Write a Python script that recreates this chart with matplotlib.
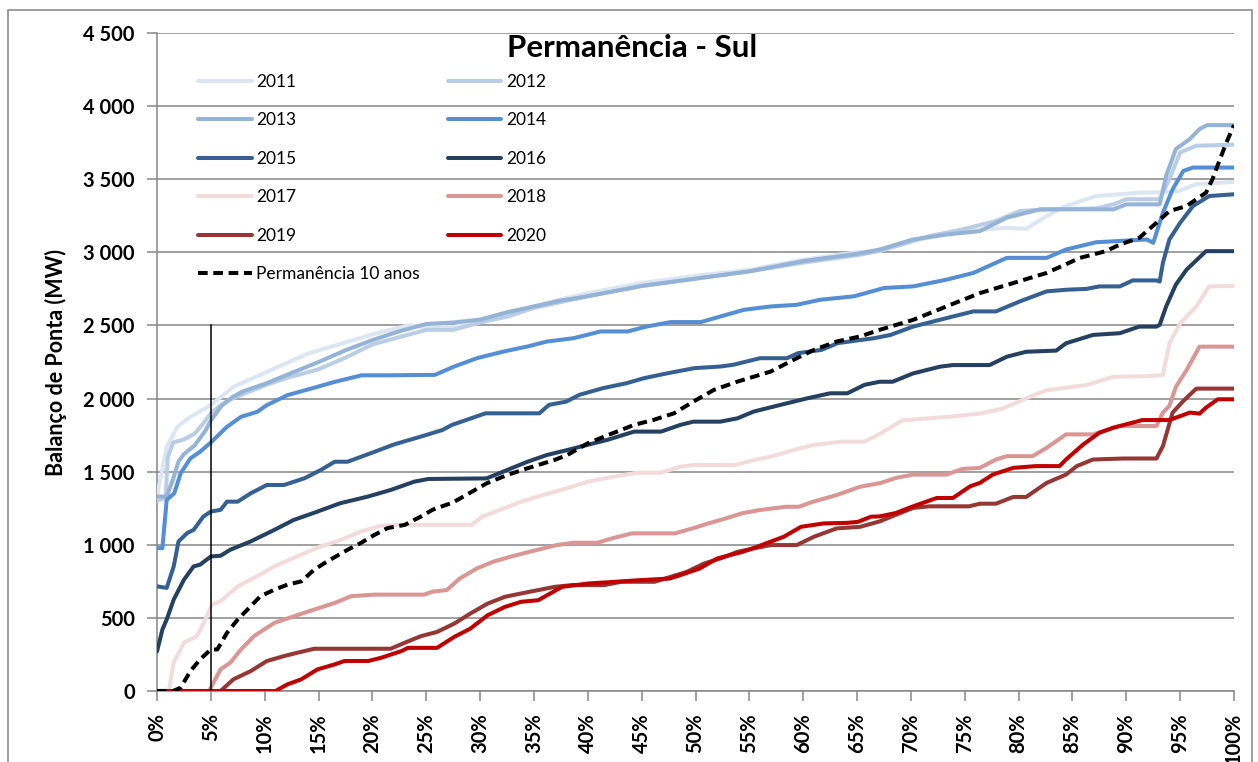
import matplotlib
matplotlib.use('Agg')
import matplotlib.pyplot as plt
from matplotlib.patches import Rectangle

plt.rcParams['font.family'] = ['Lato', 'DejaVu Sans']

# permanence curves, % of time vs MW
x_2011 = [0, 0.9, 1.9, 3.1, 5, 7.1, 10.9, 14, 17.1, 20.2, 23.3, 25, 27.5, 30, 32.5, 35, 37.5, 40, 45, 50, 55, 60, 65, 67.1,
          70.8, 74.8, 78.9, 80.7, 82.6, 84.4, 87.2, 89.4, 91.2, 93.4, 94.9, 96.5, 100]
y_2011 = [1330, 1670, 1807, 1875, 1955, 2080, 2205, 2307, 2375, 2443, 2500, 2490, 2490, 2530, 2580, 2630, 2680, 2720, 2790, 2840,
          2880, 2950, 3000, 3010, 3088, 3145, 3168, 3160, 3248, 3317, 3385, 3397, 3408, 3410, 3420, 3466, 3482]

x_2012 = [0, 0.8, 1, 1.5, 2.5, 3.5, 4.3, 5, 6, 7, 8, 10, 12, 15, 17.5, 20, 22.5, 25, 27.5, 30, 32.5, 35, 37.5, 40, 45, 50, 55,
          60, 65, 67.1, 71.7, 74.8, 77.9, 80.1, 82.6, 87.2, 88.8, 90, 93.1, 94, 95, 96.5, 100]
y_2012 = [1300, 1320, 1600, 1700, 1720, 1760, 1830, 1900, 1960, 2000, 2030, 2090, 2140, 2200, 2280, 2370, 2420, 2470, 2470, 2520,
          2560, 2620, 2660, 2700, 2770, 2820, 2870, 2930, 2980, 3010, 3111, 3157, 3214, 3282, 3294, 3300, 3328, 3363, 3363, 3500,
          3683, 3729, 3736]

x_2013 = [0, 0.9, 1.5, 2, 2.5, 3.5, 4.5, 5, 6, 7, 8, 10, 12, 15, 17.5, 20, 22.5, 25, 27.5, 30, 32.5, 35, 37.5, 40, 45, 50, 55,
          60, 65, 67.1, 70.2, 73.3, 76.4, 78.9, 82, 88.8, 90, 93.1, 93.7, 94.6, 95.9, 96.8, 97.5, 100]
y_2013 = [1330, 1330, 1450, 1570, 1620, 1680, 1780, 1850, 1950, 2010, 2050, 2100, 2160, 2250, 2330, 2400, 2460, 2510, 2520, 2540,
          2590, 2630, 2670, 2700, 2770, 2820, 2870, 2940, 2990, 3019, 3088, 3122, 3145, 3237, 3294, 3294, 3328, 3328, 3523, 3706,
          3775, 3843, 3870, 3870]

x_2014 = [0, 0.5, 0.9, 1.6, 2.2, 3.1, 4, 5, 6.5, 7.8, 9.3, 10.2, 12.1, 14.3, 16.5, 19, 21.5, 25.8, 27.6, 29.7, 32.2, 34.4, 36.2,
          38.7, 41.2, 43.7, 45.5, 47.7, 50.5, 52.3, 54.5, 57, 59.4, 61.6, 64.7, 67.5, 70.2, 73.3, 75.8, 78.9, 82.6, 84.4, 87.2,
          91.9, 92.5, 93.4, 94.3, 95.3, 96.2, 100]
y_2014 = [977, 977, 1307, 1352, 1489, 1591, 1636, 1700, 1807, 1875, 1909, 1955, 2023, 2068, 2114, 2159, 2159, 2162, 2219, 2276,
          2322, 2356, 2390, 2413, 2459, 2459, 2493, 2523, 2523, 2561, 2607, 2630, 2641, 2676, 2699, 2756, 2767, 2813, 2859, 2962,
          2962, 3019, 3069, 3088, 3065, 3271, 3431, 3557, 3580, 3580]

x_2015 = [0, 0.9, 1.55, 2, 2.8, 3.4, 4.3, 5, 5.9, 6.5, 7.5, 8.7, 10.2, 11.8, 13.7, 15.2, 16.5, 17.7, 20.2, 22, 23.9, 25, 26.5,
          27.4, 30.5, 35.5, 36.4, 38, 39.2, 41.4, 43.6, 45.2, 47.4, 49.9, 52.3, 53.5, 56, 58.5, 59.5, 61.7, 63.2, 66.6, 68.1,
          70.2, 73.3, 75.8, 77.9, 80.1, 82.6, 84.4, 86.3, 87.5, 89.4, 90.6, 92.8, 93.1, 93.4, 94, 95, 96.2, 97.7, 100]
y_2015 = [716, 705, 852, 1023, 1080, 1102, 1193, 1227, 1239, 1295, 1295, 1352, 1409, 1409, 1455, 1511, 1568, 1568, 1636, 1686,
          1727, 1751, 1785, 1820, 1899, 1899, 1957, 1979, 2025, 2071, 2105, 2139, 2173, 2208, 2219, 2231, 2276, 2276, 2310, 2333,
          2379, 2413, 2435, 2492, 2550, 2596, 2596, 2664, 2733, 2744, 2750, 2767, 2767, 2808, 2808, 2800, 2928, 3088, 3202, 3317,
          3385, 3397]

x_2016 = [0, 0.5, 0.9, 1.55, 2.5, 3.4, 4, 5, 5.9, 6.8, 8.7, 10.9, 12.7, 14.9, 17, 19.6, 21.7, 23.9, 25.2, 30.6, 32.5, 34.4,
          36.2, 38.1, 39.3, 41.8, 44.3, 46.8, 48.6, 49.8, 52.3, 53.9, 55.4, 57.9, 60.4, 62.5, 64.1, 65.7, 67.1, 68.3, 70.2, 72.7,
          73.9, 77.3, 78.9, 80.7, 83.5, 84.4, 86.9, 89.4, 91.2, 92.8, 93.1, 93.7, 94.6, 95.6, 97.4, 100]
y_2016 = [270, 420, 489, 625, 761, 852, 864, 920, 925, 966, 1023, 1102, 1170, 1227, 1284, 1330, 1375, 1432, 1450, 1454, 1511,
          1568, 1614, 1648, 1671, 1717, 1774, 1774, 1820, 1842, 1842, 1865, 1911, 1957, 2002, 2036, 2036, 2094, 2115, 2115, 2172,
          2218, 2229, 2229, 2286, 2320, 2328, 2378, 2435, 2447, 2492, 2492, 2504, 2630, 2779, 2882, 3008, 3008]

x_2017 = [0, 1.1, 1.55, 2.5, 3.7, 4.5, 5.1, 5.9, 7.5, 9, 10.9, 13, 15.2, 17.1, 18.9, 20.8, 22.7, 29.2, 30.2, 32.2, 33.8, 35.3,
          37.5, 40, 42.4, 44.6, 46.8, 48.6, 49.9, 53.7, 55.5, 57, 59.1, 61, 63.5, 65.7, 67.2, 69.2, 73.3, 76.4, 78.5, 81, 82.6,
          85, 86.3, 88.8, 91.9, 93.4, 94, 95, 96.5, 97.7, 100]
y_2017 = [0, 0, 193, 330, 375, 489, 591, 614, 716, 773, 852, 920, 989, 1034, 1091, 1130, 1136, 1136, 1192, 1249, 1294, 1329,
          1374, 1431, 1466, 1493, 1493, 1534, 1546, 1546, 1580, 1603, 1648, 1683, 1705, 1705, 1762, 1851, 1874, 1897, 1931, 2011,
          2057, 2080, 2092, 2149, 2153, 2160, 2378, 2515, 2630, 2767, 2770]

x_2018 = [0, 4.8, 5, 5.9, 6.8, 7.8, 9, 10.9, 12.7, 14.6, 16.5, 18, 20.2, 24.8, 25.6, 26.9, 28.1, 29.7, 31.2, 32.8, 34.6, 37.1,
          38.7, 40.9, 42.2, 44.1, 48.1, 49.7, 51.2, 52.8, 54.3, 55.9, 58.4, 59.6, 60.9, 63.1, 65.3, 67.2, 68.6, 70.2, 73.3, 74.8,
          76.4, 77.9, 78.9, 81.3, 82.6, 84.4, 86.9, 89.4, 92.8, 93.4, 94, 94.6, 95.6, 96.8, 100]
y_2018 = [0, 0, 23, 148, 193, 284, 375, 466, 511, 557, 602, 648, 659, 659, 680, 690, 769, 838, 884, 918, 952, 998, 1014, 1014,
          1043, 1078, 1078, 1112, 1146, 1180, 1215, 1237, 1260, 1260, 1294, 1340, 1397, 1423, 1457, 1480, 1480, 1519, 1526, 1583,
          1606, 1606, 1663, 1755, 1755, 1812, 1812, 1904, 1950, 2080, 2195, 2355, 2355]

x_2019 = [0, 5.9, 7.1, 8.7, 10.2, 11.8, 13, 14.6, 21.7, 23, 24.5, 26, 27.6, 29.1, 30.7, 32.3, 33.8, 36.9, 38.5, 41.5, 43.1,
          46.2, 47.7, 49.2, 50.8, 52.3, 53.9, 55.4, 57, 59.4, 61, 63.1, 65.3, 67.1, 70.2, 71.7, 75.4, 76.4, 77.9, 79.5, 80.7,
          82.6, 84.4, 85.4, 86.9, 89.7, 92.8, 93.4, 94.3, 95.3, 96.5, 100]
y_2019 = [0, 0, 80, 136, 205, 239, 261, 289, 289, 330, 375, 404, 461, 530, 598, 644, 667, 712, 724, 724, 747, 747, 781, 815,
          872, 906, 952, 975, 998, 998, 1055, 1112, 1123, 1160, 1252, 1263, 1263, 1281, 1281, 1327, 1327, 1423, 1480, 1538, 1583,
          1590, 1590, 1675, 1904, 1984, 2068, 2068]

x_2020 = [0, 11, 12.1, 13.4, 14.9, 16.5, 17.4, 19.6, 20.8, 22.7, 23.3, 26, 27.6, 29.1, 30.7, 32.3, 33.8, 35.4, 37.6, 40, 42.6,
          44.8, 47.6, 48.5, 50.4, 52, 54.4, 55.7, 58.2, 59.8, 61.9, 64.1, 65.1, 66.3, 67.1, 68.6, 70.2, 72.4, 73.9, 75.5, 76.4,
          77.6, 79.5, 81.6, 83.8, 84.4, 86, 87.5, 88.8, 91.5, 94, 95.9, 96.8, 97.4, 98.5, 100]
y_2020 = [0, 0, 45, 80, 148, 182, 205, 205, 227, 273, 295, 295, 370, 427, 518, 575, 610, 621, 712, 735, 747, 758, 769, 790,
          838, 906, 952, 986, 1055, 1123, 1146, 1150, 1157, 1192, 1194, 1217, 1263, 1320, 1320, 1400, 1423, 1480, 1526, 1538,
          1538, 1583, 1686, 1766, 1801, 1853, 1853, 1904, 1897, 1938, 1995, 1995]

x_10anos = [0, 1.5, 2.2, 3.1, 4, 5, 5.6, 6.5, 7.5, 8.4, 9.6, 10.9, 12.1, 13.4, 14.6, 15.8, 17.7, 18.9, 20.2, 21.4, 23, 24.5,
            25.6, 27.5, 30.6, 32.5, 34.4, 36.9, 38.1, 40, 41.9, 44.3, 46.1, 48, 49.8, 51.7, 53.9, 57, 59.1, 61, 63.1, 65.3,
            67.1, 70.2, 73.3, 76.4, 79.5, 82.6, 85.7, 88.1, 89.4, 91.2, 92.8, 94, 95.6, 97.4, 98, 98.7, 99.3, 100]
y_10anos = [0, 0, 23, 136, 216, 284, 284, 398, 489, 557, 648, 693, 727, 750, 830, 886, 966, 1011, 1068, 1114, 1136, 1193,
            1240, 1290, 1420, 1477, 1523, 1580, 1614, 1694, 1751, 1820, 1854, 1899, 1979, 2059, 2116, 2185, 2265, 2333, 2390,
            2425, 2470, 2538, 2630, 2721, 2790, 2859, 2962, 3008, 3053, 3099, 3202, 3282, 3317, 3408, 3500, 3637, 3752, 3870]

years = ['2011', '2012', '2013', '2014', '2015', '2016', '2017', '2018', '2019', '2020']
colors = ['#dce6f2', '#b9cde5', '#95b3d7', '#558ed5', '#376092', '#254061', '#f2dcdb', '#d99694', '#953735', '#c00000']
xs = [x_2011, x_2012, x_2013, x_2014, x_2015, x_2016, x_2017, x_2018, x_2019, x_2020]
ys = [y_2011, y_2012, y_2013, y_2014, y_2015, y_2016, y_2017, y_2018, y_2019, y_2020]

y_ticks = [0, 500, 1000, 1500, 2000, 2500, 3000, 3500, 4000, 4500]
y_ticklabels = ['0', '500', '1 000', '1 500', '2 000', '2 500', '3 000', '3 500', '4 000', '4 500']
x_ticks = [0, 5, 10, 15, 20, 25, 30, 35, 40, 45, 50, 55, 60, 65, 70, 75, 80, 85, 90, 95, 100]
x_ticklabels = ['0%', '5%', '10%', '15%', '20%', '25%', '30%', '35%', '40%', '45%', '50%', '55%', '60%', '65%', '70%',
                '75%', '80%', '85%', '90%', '95%', '100%']

grid_gray = '#868686'

fig = plt.figure(figsize=(12.58, 7.62), dpi=100)
ax = fig.add_axes([157 / 1258, 71 / 762, 1077 / 1258, 658 / 762])

lines = {}
for yr, c, x, y in zip(years, colors, xs, ys):
    lines[yr], = ax.plot(x, y, color=c, lw=2.9, solid_joinstyle='round', solid_capstyle='round', label=yr, zorder=3)
dash, = ax.plot(x_10anos, y_10anos, color='black', lw=2.9, dashes=(2.4, 1.4), label='Permanência 10 anos', zorder=4)

# marker line at 5%
ax.plot([5, 5], [0, 2500], color='black', lw=1.1, zorder=5)

ax.set_xlim(0, 100)
ax.set_ylim(0, 4500)
ax.set_yticks(y_ticks)
ax.set_yticklabels(y_ticklabels, fontsize=14.5, fontweight='bold')
ax.set_xticks(x_ticks)
ax.set_xticklabels(x_ticklabels, fontsize=14.5, fontweight='bold', rotation=90, va='top', ha='center')
ax.yaxis.grid(True, color=grid_gray, lw=1.1, zorder=0)
ax.set_axisbelow(True)
for s in ['top', 'right']:
    ax.spines[s].set_visible(False)
for s in ['left', 'bottom']:
    ax.spines[s].set_color(grid_gray)
    ax.spines[s].set_linewidth(1.1)
ax.tick_params(axis='both', direction='out', color=grid_gray, width=1.1, length=7)
ax.tick_params(axis='x', pad=9)
ax.tick_params(axis='y', pad=9)

ax.set_ylabel('Balanço de Ponta (MW)', fontsize=15.5, fontweight='bold', labelpad=12)

fig.text(632 / 1258, 1 - 48 / 762, 'Permanência - Sul', fontsize=22.5, fontweight='bold', ha='center', va='center')

# legend laid out row by row like the Excel one
order = ['2011', '2013', '2015', '2017', '2019', None, '2012', '2014', '2016', '2018', '2020']
handles = [lines[k] if k else dash for k in order]
leg = ax.legend(handles=handles, labels=[h.get_label() for h in handles], ncol=2, loc='upper left',
                bbox_to_anchor=(198 / 1258, 1 - 74 / 762), bbox_transform=fig.transFigure,
                frameon=False, fontsize=12.5, handlelength=3.1, handletextpad=0.25, labelspacing=1.29,
                columnspacing=1.6, borderpad=0, borderaxespad=0)

# chart border
fig.patches.append(Rectangle((8 / 1258, -0.05), 1244 / 1258, 1.05 - 10 / 762, transform=fig.transFigure,
                             fill=False, edgecolor='#8c8c8c', lw=1.2))

fig.savefig('out.png', dpi=100)
